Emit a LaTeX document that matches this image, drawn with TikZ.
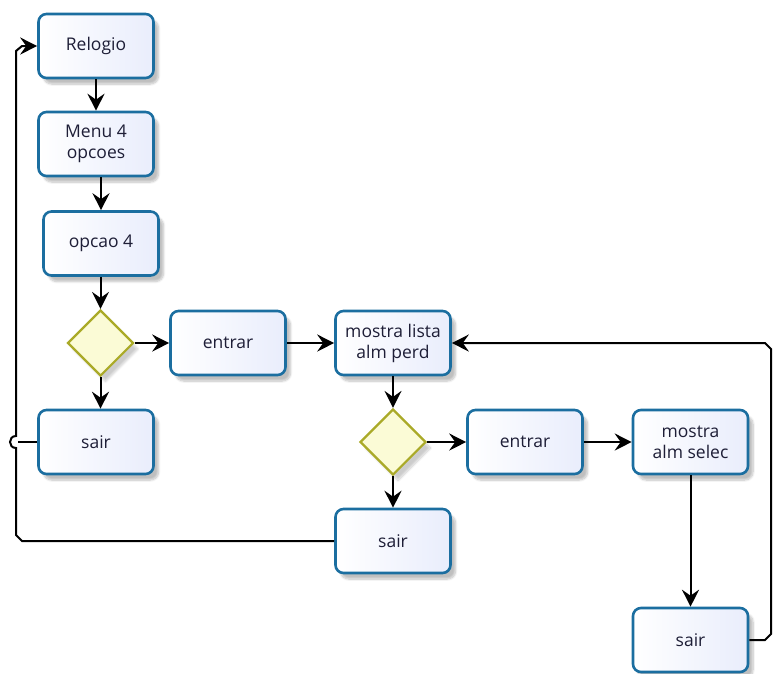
\documentclass[tikz,border=0pt]{standalone}
\usepackage{fontspec}
\setmainfont{Open Sans}
\usetikzlibrary{arrows.meta,shapes.geometric,shadows.blur}
\definecolor{boxline}{RGB}{27,110,160}
\definecolor{boxfill}{RGB}{233,237,252}
\definecolor{diaLine}{RGB}{170,170,40}
\definecolor{diaFill}{RGB}{251,251,214}
\definecolor{txt}{RGB}{30,30,55}
\tikzset{
  task/.style={draw=boxline, line width=2.6pt, rounded corners=8pt,
    left color=white, right color=boxfill,
    minimum width=115pt, minimum height=64pt, align=center,
    font=\fontsize{17.5}{21}\selectfont, text=txt,
    blur shadow={shadow xshift=5pt, shadow yshift=-6pt, shadow blur steps=8, shadow opacity=25}},
  gate/.style={diamond, draw=diaLine, line width=2.2pt, fill=diaFill, inner sep=0pt,
    minimum width=66pt, minimum height=66pt, aspect=1,
    blur shadow={shadow xshift=5pt, shadow yshift=-6pt, shadow blur steps=8, shadow opacity=20}},
  flow/.style={draw=black, line width=2pt, -{Stealth[length=17pt,width=17pt,inset=6pt]}},
  flowplain/.style={draw=black, line width=2pt}
}
\begin{document}
\begin{tikzpicture}[x=1pt, y=-1pt]
\useasboundingbox (0,0) rectangle (781,673);
% boxes
\node[task] (relogio) at (96,46) {Relogio};
\node[task] (menu) at (96,144) {Menu 4\\opcoes};
\node[task] (opcao) at (101,243.5) {opcao 4};
\node[gate] (g1) at (100.5,343) {};
\node[task] (entrar1) at (228,343) {entrar};
\node[task] (lista) at (393,343) {mostra lista\\alm perd};
\node[task] (sair1) at (96,442) {sair};
\node[gate] (g2) at (393,442) {};
\node[task] (entrar2) at (525,442) {entrar};
\node[task] (selec) at (690.5,442) {mostra\\alm selec};
\node[task] (sair2) at (393,541) {sair};
\node[task] (sair3) at (690.5,640) {sair};
% end of the short return line from the first exit
\coordinate (join) at (18,442);
% main flow
\draw[flow] (relogio) -- (menu);
\draw[flow] (opcao.north |- menu.south) -- (opcao.north);
\draw[flow] (opcao.south -| g1.north) -- (g1.north);
\draw[flow] (g1.east) -- (entrar1.west);
\draw[flow] (entrar1.east) -- (lista.west);
\draw[flow] (g1.south) -- (g1.south |- sair1.north);
\draw[flow] (lista.south) -- (g2.north);
\draw[flow] (g2.east) -- (entrar2.west);
\draw[flow] (entrar2.east) -- (selec.west);
\draw[flow] (g2.south) -- (sair2.north);
\draw[flow] (selec.south) -- (sair3.north);
% return lines
\draw[flowplain] (sair1.west) -- (join);
\draw[flow] (sair2.west) -- (22,541) -- (16,535) -- (16,448)
  .. controls (8,448) and (8,436) .. (16,436) -- (16,51) -- (22,46) -- (relogio.west);
\draw[flow] (sair3.east) -- (765,640) -- (771,634) -- (771,349) -- (765,343) -- (lista.east);
\end{tikzpicture}
\end{document}
